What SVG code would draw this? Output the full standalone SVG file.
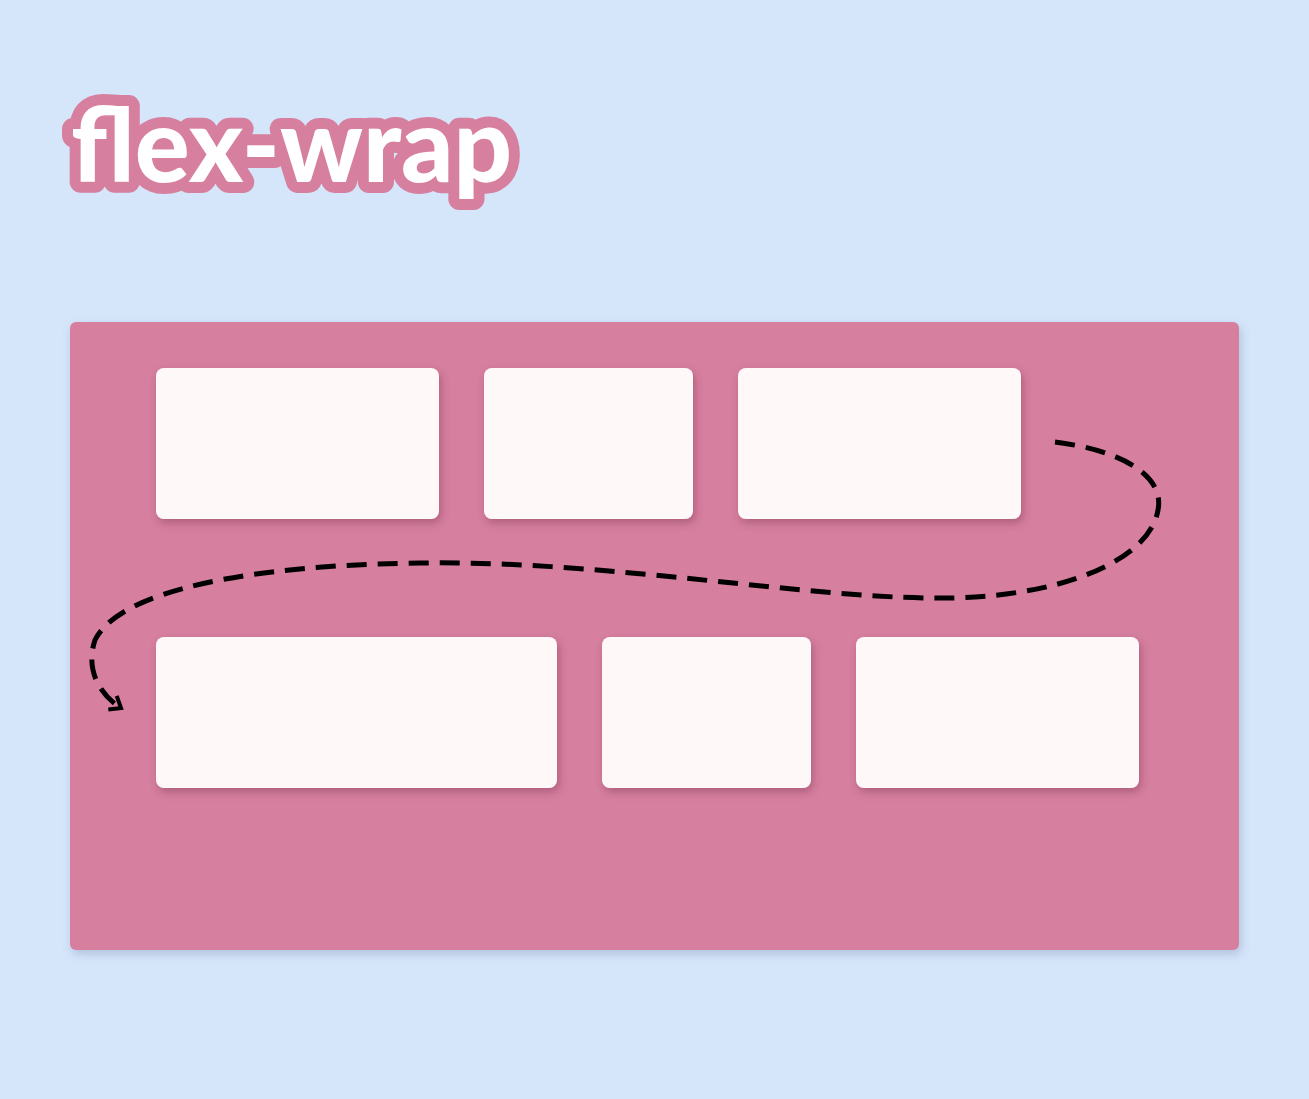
<svg xmlns="http://www.w3.org/2000/svg" width="1309" height="1099" viewBox="0 0 1309 1099">
<defs>
<filter id="sh" x="-10%" y="-10%" width="120%" height="130%">
<feDropShadow dx="2" dy="4" stdDeviation="4" flood-color="#7a3550" flood-opacity="0.45"/>
</filter>
<filter id="shc" x="-5%" y="-5%" width="110%" height="115%">
<feDropShadow dx="2" dy="4" stdDeviation="5" flood-color="#6a7fa0" flood-opacity="0.35"/>
</filter>
<marker id="arr" viewBox="0 0 20 20" refX="14" refY="10" markerWidth="20" markerHeight="20" markerUnits="userSpaceOnUse" orient="auto">
<path d="M4,2 L14,10 L4,18" fill="none" stroke="#000" stroke-width="4"/>
</marker>
<style>
.box{fill:#fff8f8;filter:url(#sh)}
.title{font-family:Lato,"Liberation Sans",sans-serif;font-weight:900;font-size:102.5px;fill:#ffffff;stroke:#d67f9f;stroke-width:22px;stroke-linejoin:round;paint-order:stroke}
</style>
</defs>
<rect width="1309" height="1099" fill="#d5e5fa"/>
<g id="title"><text class="title" x="71" y="182">flex-wrap</text></g>
<g id="container"><rect x="70" y="322" width="1169" height="628" rx="6" fill="#d67f9f" filter="url(#shc)"/></g>
<g id="item1"><rect class="box" x="156" y="368" width="283" height="151" rx="8"/></g>
<g id="item2"><rect class="box" x="484" y="368" width="209" height="151" rx="8"/></g>
<g id="item3"><rect class="box" x="738" y="368" width="283" height="151" rx="8"/></g>
<g id="item4"><rect class="box" x="156" y="637" width="401" height="151" rx="8"/></g>
<g id="item5"><rect class="box" x="602" y="637" width="209" height="151" rx="8"/></g>
<g id="item6"><rect class="box" x="856" y="637" width="283" height="151" rx="8"/></g>
<g id="connectors">
<path d="M1055,442 C1120,450 1165,475 1158,510 C1150,560 1060,600 930,598 C800,597 600,560 420,563 C250,565 120,590 95,640 C85,670 100,695 121,708" fill="none" stroke="#000" stroke-width="5" stroke-dasharray="20 11" marker-end="url(#arr)"/>
</g>
</svg>
